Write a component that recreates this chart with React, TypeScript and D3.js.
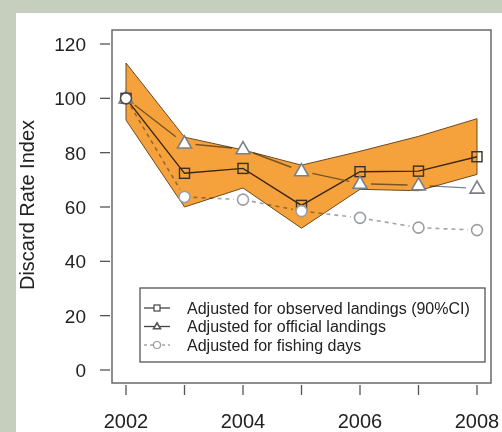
import * as d3 from 'd3'

const years = [2002, 2003, 2004, 2005, 2006, 2007, 2008]
const observed = [100, 72.4, 74.2, 60.6, 73, 73.2, 78.5]
const ciUpper = [113, 85.7, 81, 75.4, 80.5, 86, 92.5]
const ciLower = [92, 60, 67, 52.2, 66.5, 66, 72]
const official = [100, 83.4, 81.3, 73.2, 68.6, 68, 66.8]
const fishingDays = [100, 63.7, 62.7, 58.5, 56, 52.4, 51.5]
const yTicks = [0, 20, 40, 60, 80, 100, 120]
const xLabels = [2002, 2004, 2006, 2008]
const legendLabels = [
    'Adjusted for observed landings (90%CI)',
    'Adjusted for official landings',
    'Adjusted for fishing days'
]

const font = '"Liberation Sans", Arial, Helvetica, sans-serif'

// R type="b" style: segments stop short of the points
const gappedSegments = (pts: [number, number][], gap: number) => {
    const segs = []
    for (let i = 0; i < pts.length - 1; i++) {
        const [x0, y0] = pts[i]
        const [x1, y1] = pts[i + 1]
        const len = Math.hypot(x1 - x0, y1 - y0)
        if (len <= 2 * gap) continue
        const ux = (x1 - x0) / len
        const uy = (y1 - y0) / len
        segs.push([x0 + ux * gap, y0 + uy * gap, x1 - ux * gap, y1 - uy * gap])
    }
    return segs
}

const Triangle = ({ cx, cy, s, stroke }) => {
    const h = s * 0.866
    const p = `M${cx},${cy - h * 0.62} L${cx + s / 2},${cy + h * 0.38} L${cx - s / 2},${cy + h * 0.38} Z`
    return <path d={p} fill="#fff" stroke={stroke} strokeWidth={1.6} />
}

const App = () => {
    const W = 502
    const H = 432
    const box = { left: 112, top: 30, right: 491, bottom: 383 }

    const x = d3.scaleLinear().domain([2002, 2008]).range([126, 477])
    const y = d3.scaleLinear().domain([0, 120]).range([370, 44])

    const band = d3
        .area<number>()
        .x((d, i) => x(years[i]))
        .y0((d, i) => y(ciLower[i]))
        .y1(d => y(d))(ciUpper)

    const line = d3
        .line<number>()
        .x((d, i) => x(years[i]))
        .y(d => y(d))

    const offPts = official.map((v, i) => [x(years[i]), y(v)] as [number, number])
    const dayPts = fishingDays.map((v, i) => [x(years[i]), y(v)] as [number, number])

    const legendRows = [308, 326.5, 345]

    return (
        <svg
            width={W}
            height={H}
            style={{ position: 'absolute', left: 0, top: 0, display: 'block' }}
        >
            <rect x={0} y={0} width={W} height={H} fill="#c6cfbe" />
            <rect x={16} y={13} width={W - 16} height={H - 13} fill="#fff" />

            {/* CI band */}
            <path d={band} fill="#f5a23c" stroke="#6e4a1e" strokeWidth={1} />

            <g style={{ mixBlendMode: 'multiply' }}>
                <path d={line(observed)} fill="none" stroke="#3c3c3c" strokeWidth={1.4} />
                {gappedSegments(offPts, 11).map((s, i) => (
                    <line key={i} x1={s[0]} y1={s[1]} x2={s[2]} y2={s[3]} stroke="#7d8494" strokeWidth={1.4} />
                ))}
                {gappedSegments(dayPts, 9).map((s, i) => (
                    <line
                        key={i}
                        x1={s[0]}
                        y1={s[1]}
                        x2={s[2]}
                        y2={s[3]}
                        stroke="#a0a4aa"
                        strokeWidth={1.6}
                        strokeDasharray="4 4"
                    />
                ))}
            </g>

            {/* markers */}
            {observed.map((v, i) => (
                <rect
                    key={i}
                    x={x(years[i]) - 5}
                    y={y(v) - 5}
                    width={10}
                    height={10}
                    fill="none"
                    stroke="#3a3026"
                    strokeWidth={1.4}
                />
            ))}
            {official.map((v, i) => (
                <Triangle key={i} cx={x(years[i])} cy={y(v)} s={14} stroke="#7b7f88" />
            ))}
            {fishingDays.map((v, i) => (
                <circle
                    key={i}
                    cx={x(years[i])}
                    cy={y(v)}
                    r={5.5}
                    fill="#fff"
                    stroke={i === 0 ? '#4a4a4a' : '#9a9ea4'}
                    strokeWidth={1.6}
                />
            ))}

            {/* plot box */}
            <rect
                x={box.left}
                y={box.top}
                width={box.right - box.left}
                height={box.bottom - box.top}
                fill="none"
                stroke="#6a6a6a"
                strokeWidth={1.5}
            />

            {/* y axis */}
            {yTicks.map(t => (
                <g key={t}>
                    <line x1={100} x2={110} y1={y(t)} y2={y(t)} stroke="#555" strokeWidth={1.3} />
                    <text
                        x={86}
                        y={y(t)}
                        dy="0.36em"
                        textAnchor="end"
                        fontFamily={font}
                        fontSize={19}
                        fill="#222"
                    >
                        {t}
                    </text>
                </g>
            ))}
            <text
                transform="translate(34,205) rotate(-90)"
                textAnchor="middle"
                fontFamily={font}
                fontSize={20}
                fill="#222"
            >
                Discard Rate Index
            </text>

            {/* x axis */}
            {years.map(yr => (
                <line key={yr} x1={x(yr)} x2={x(yr)} y1={385} y2={395} stroke="#555" strokeWidth={1.3} />
            ))}
            {xLabels.map(yr => (
                <text
                    key={yr}
                    x={x(yr)}
                    y={421}
                    dy="0.36em"
                    textAnchor="middle"
                    fontFamily={font}
                    fontSize={20}
                    fill="#222"
                >
                    {yr}
                </text>
            ))}

            {/* legend */}
            <rect x={140} y={288} width={345} height={74} fill="#fff" stroke="#555" strokeWidth={1.3} />
            {legendRows.map((ly, i) => (
                <g key={i}>
                    <line
                        x1={144}
                        x2={170}
                        y1={ly}
                        y2={ly}
                        stroke={i === 2 ? '#a0a4aa' : '#444'}
                        strokeWidth={1.3}
                        strokeDasharray={i === 2 ? '3 3' : undefined}
                    />
                    {i === 0 && <rect x={154} y={ly - 3} width={6} height={6} fill="#fff" stroke="#444" strokeWidth={1.2} />}
                    {i === 1 && <Triangle cx={157} cy={ly} s={7} stroke="#555" />}
                    {i === 2 && <circle cx={157} cy={ly} r={3.5} fill="#fff" stroke="#999" strokeWidth={1.2} />}
                    <text x={187} y={ly} dy="0.36em" fontFamily={font} fontSize={16} fill="#222">
                        {legendLabels[i]}
                    </text>
                </g>
            ))}
        </svg>
    )
}

export default App
